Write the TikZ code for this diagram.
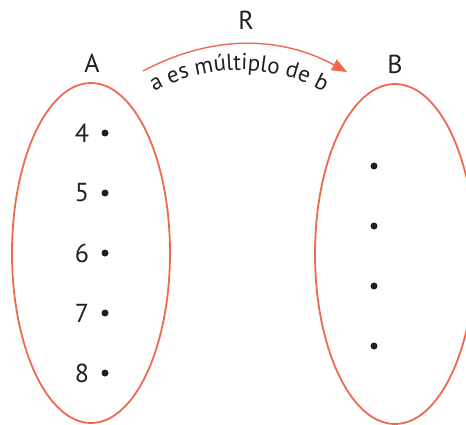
\documentclass[tikz,border=0pt]{standalone}
\usepackage{fontspec}
\setmainfont{PT Sans}
\usetikzlibrary{arrows.meta,decorations.text}
\definecolor{setred}{HTML}{EE6A4F}
\definecolor{ink}{HTML}{231F20}
\begin{document}
\begin{tikzpicture}[x=1pt,y=1pt,
  setoval/.style={draw=setred,line width=1.8pt},
  elem/.style={circle,fill=ink,inner sep=0pt,minimum size=7pt},
  lbl/.style={text=ink,font=\fontsize{26}{26}\selectfont,inner sep=0pt},
  relarrow/.style={draw=setred,line width=1.4pt,-{Triangle[length=15pt,width=12pt]}}]
\useasboundingbox (0,0) rectangle (466,424);
\begin{scope}
\clip (0,0) rectangle (466,424);
% the two sets
\draw[setoval] (91,171) ellipse [x radius=79, y radius=170];
\draw[setoval] (395,170) ellipse [x radius=80, y radius=170];
\end{scope}
% set names
\node[lbl] (A) at (92,361) {A};
\node[lbl] (B) at (395,360) {B};
\node[lbl] (R) at (246,404) {R};
% elements of A
\foreach \n/\y in {4/291,5/231,6/171,7/111,8/51}{
  \node[lbl] (n\n) at (82,\y) {\n};
  \node[elem] (a\n) at (105,\y) {};
}
% elements of B
\foreach \i/\y in {1/258,2/198,3/138,4/78}{
  \node[elem] (b\i) at (374,\y) {};
}
% the relation arrow
\coordinate (rstart) at (143,353);
\coordinate (rend) at (347,352);
\draw[relarrow] (rstart) .. controls (211,389) and (279,389) .. (rend);
% curved caption below the arrow
\path[decorate,decoration={text along path,text align=center,
  text={|\fontsize{23}{23}\selectfont\color{ink}|a es múltiplo de b}}]
  (239,178) ++(130:176) arc[start angle=130,end angle=50,radius=176];
\end{tikzpicture}
\end{document}
